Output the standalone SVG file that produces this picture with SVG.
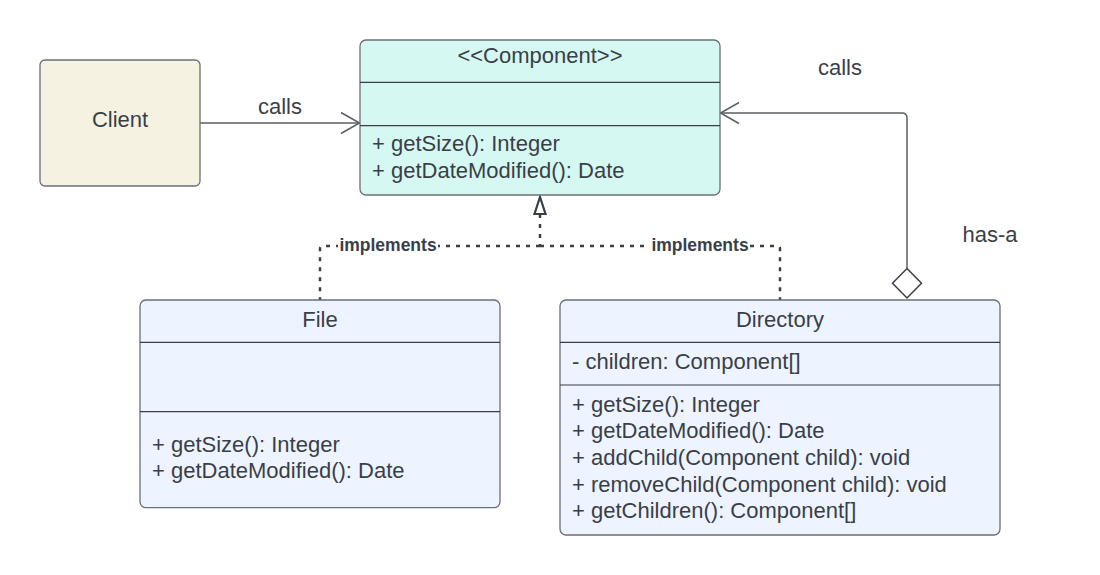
<svg xmlns="http://www.w3.org/2000/svg" width="1100" height="575" viewBox="0 0 1100 575">
<style>
.box{stroke:#6b6f76;stroke-width:1.3}
.div{stroke:#3a3f47;stroke-width:1.2}
.t{font-family:"Liberation Sans",Arial,sans-serif;font-size:22px;fill:#3a3f47}
.c{text-anchor:middle}
.lbl{font-family:"Liberation Sans",Arial,sans-serif;font-size:17.5px;font-weight:bold;fill:#3a3f47;text-anchor:middle}
.ln{fill:none;stroke:#5a5f66;stroke-width:1.5}
.dot{fill:none;stroke:#3a3f47;stroke-width:2.5;stroke-dasharray:4 6}
</style>
<rect width="1100" height="575" fill="#ffffff"/>
<g id="connectors">
  <g id="client-calls">
    <line class="ln" x1="200" y1="123" x2="359" y2="123"/>
    <polyline class="ln" points="341,112.5 359.5,123 341,133.5"/>
    <text class="t c" x="280" y="114">calls</text>
  </g>
  <g id="directory-has-a">
    <path class="ln" d="M907,268 V118 Q907,113 902,113 H721"/>
    <polyline class="ln" points="739,102.5 720.5,113 739,123.5"/>
    <polygon points="907,268.5 921.5,283.3 907,298 892.5,283.3" fill="#ffffff" stroke="#3a3f47" stroke-width="1.5"/>
    <text class="t c" x="840" y="75">calls</text>
    <text class="t c" x="990" y="242">has-a</text>
  </g>
  <g id="implements">
    <path class="dot" d="M540,214 V246 M540,246 H323 Q320,246 320,249 V300"/>
    <path class="dot" d="M540,246 H777 Q780,246 780,249 V300"/>
    <polygon points="540,197 545.5,214 534.5,214" fill="#ffffff" stroke="#3a3f47" stroke-width="2.2" stroke-linejoin="miter"/>
    <rect x="338" y="236" width="100" height="20" fill="#ffffff"/>
    <text class="lbl" x="388" y="250.5">implements</text>
    <rect x="650" y="236" width="100" height="20" fill="#ffffff"/>
    <text class="lbl" x="700" y="250.5">implements</text>
  </g>
</g>
<g id="client">
  <rect class="box" x="40" y="60" width="160" height="126" rx="5" fill="#f5f2e2"/>
  <text class="t c" x="120" y="127">Client</text>
</g>
<g id="component">
  <rect class="box" x="360" y="40" width="360" height="155" rx="6" fill="#d6f8f2"/>
  <line class="div" x1="360" y1="82.3" x2="720" y2="82.3"/>
  <line class="div" x1="360" y1="125.7" x2="720" y2="125.7"/>
  <text class="t c" x="540" y="63">&lt;&lt;Component&gt;&gt;</text>
  <text class="t" x="372" y="150.5">+ getSize(): Integer</text>
  <text class="t" x="372" y="178">+ getDateModified(): Date</text>
</g>
<g id="file">
  <rect class="box" x="140" y="300" width="360" height="207.7" rx="6" fill="#edf4ff"/>
  <line class="div" x1="140" y1="342.3" x2="500" y2="342.3"/>
  <line class="div" x1="140" y1="411.7" x2="500" y2="411.7"/>
  <text class="t c" x="320" y="326.7">File</text>
  <text class="t" x="152" y="451.7">+ getSize(): Integer</text>
  <text class="t" x="152" y="478.3">+ getDateModified(): Date</text>
</g>
<g id="directory">
  <rect class="box" x="560" y="300" width="440" height="235" rx="6" fill="#edf4ff"/>
  <line class="div" x1="560" y1="342.3" x2="1000" y2="342.3"/>
  <line class="div" x1="560" y1="385" x2="1000" y2="385"/>
  <text class="t c" x="780" y="326.7">Directory</text>
  <text class="t" x="572" y="369">- children: Component[]</text>
  <text class="t" x="572" y="411.7">+ getSize(): Integer</text>
  <text class="t" x="572" y="438.3">+ getDateModified(): Date</text>
  <text class="t" x="572" y="465">+ addChild(Component child): void</text>
  <text class="t" x="572" y="491.7">+ removeChild(Component child): void</text>
  <text class="t" x="572" y="518.3">+ getChildren(): Component[]</text>
</g>
</svg>
